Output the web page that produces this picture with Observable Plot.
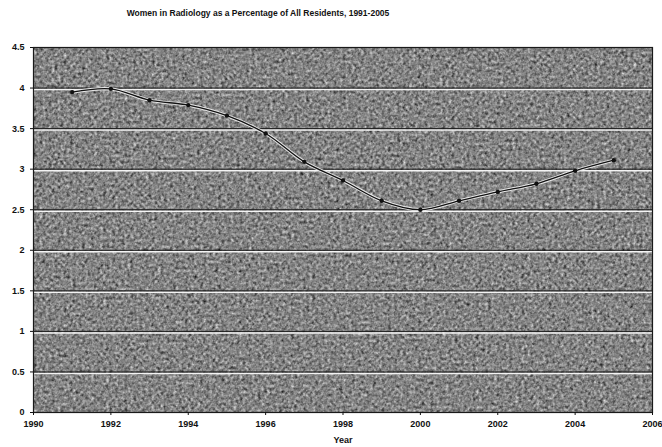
<!DOCTYPE html>
<html>
<head>
<meta charset="utf-8">
<script src="https://cdn.jsdelivr.net/npm/d3@7"></script>
<script src="https://cdn.jsdelivr.net/npm/@observablehq/plot@0.6"></script>
<style>
  html, body { margin: 0; padding: 0; background: #fff; }
  #title { width: 516px; height: 30px; box-sizing: border-box; padding-top: 8px; text-align: center;
    font: bold 8.5px "Liberation Sans", Arial, sans-serif; color: #111; }
  #chart svg { display: block; }
</style>
</head>
<body>
<div id="title">Women in Radiology as a Percentage of All Residents, 1991-2005</div>
<div id="chart"></div>
<script>
const years = [1991, 1992, 1993, 1994, 1995, 1996, 1997, 1998, 1999, 2000, 2001, 2002, 2003, 2004, 2005];
const percents = [3.95, 3.99, 3.85, 3.79, 3.66, 3.44, 3.09, 2.86, 2.61, 2.50, 2.61, 2.72, 2.82, 2.98, 3.11];
const yTicks = [0, 0.5, 1, 1.5, 2, 2.5, 3, 3.5, 4, 4.5];
const xTicks = [1990, 1992, 1994, 1996, 1998, 2000, 2002, 2004, 2006];

const data = years.map((y, i) => ({year: y, value: percents[i]}));

const chart = Plot.plot({
  width: 662,
  height: 417,
  marginLeft: 33,
  marginRight: 10,
  marginTop: 17,
  marginBottom: 35,
  style: {fontFamily: "'Liberation Sans', Arial, sans-serif", fontSize: "9px", fontWeight: "bold", color: "#111", background: "#fff"},
  x: {domain: [1990, 2006]},
  y: {domain: [0, 4.5]},
  marks: [
    Plot.frame({fill: "#858585", stroke: null, className: "bgframe"}),
    Plot.ruleY(yTicks.slice(1, -1), {stroke: "#f4f4f4", strokeWidth: 1.5, dy: 1.5}),
    Plot.ruleY(yTicks.slice(1, -1), {stroke: "#1a1a1a", strokeWidth: 1}),
    Plot.frame({stroke: "#1a1a1a", strokeWidth: 1.2}),
    Plot.axisX({ticks: xTicks, tickFormat: d3.format("d"), tickSize: 3, tickPadding: 5, label: "Year", labelAnchor: "center", labelArrow: "none", labelOffset: 30}),
    Plot.axisY({ticks: yTicks, tickFormat: d => String(d), tickSize: 3, label: null}),
    Plot.line(data, {x: "year", y: "value", curve: "catmull-rom", stroke: "#e8e8e8", strokeWidth: 3.2}),
    Plot.line(data, {x: "year", y: "value", curve: "catmull-rom", stroke: "#111", strokeWidth: 1.3}),
    Plot.dot(data, {x: "year", y: "value", r: 2.2, fill: "#111", stroke: null})
  ]
});

// grainy scanned texture for the plot background
const ns = "http://www.w3.org/2000/svg";
const defs = document.createElementNS(ns, "defs");
defs.innerHTML = `
<filter id="grain" x="0" y="0" width="100%" height="100%" color-interpolation-filters="sRGB">
  <feTurbulence type="fractalNoise" baseFrequency="0.33" numOctaves="2" seed="7" result="t"/>
  <feColorMatrix in="t" type="matrix" values="0.33 0.33 0.33 0 0  0.33 0.33 0.33 0 0  0.33 0.33 0.33 0 0  0 0 0 0 1" result="g"/>
  <feComponentTransfer in="g" result="c">
    <feFuncR type="linear" slope="1.4" intercept="-0.18"/>
    <feFuncG type="linear" slope="1.4" intercept="-0.18"/>
    <feFuncB type="linear" slope="1.4" intercept="-0.18"/>
  </feComponentTransfer>
  <feComposite in="c" in2="SourceGraphic" operator="in"/>
</filter>`;
chart.insertBefore(defs, chart.firstChild);
const bg = chart.querySelector(".bgframe rect, rect.bgframe, g.bgframe rect") || chart.querySelector("[aria-label=frame]");
if (bg) bg.setAttribute("filter", "url(#grain)");
document.getElementById("chart").appendChild(chart);
</script>
</body>
</html>
